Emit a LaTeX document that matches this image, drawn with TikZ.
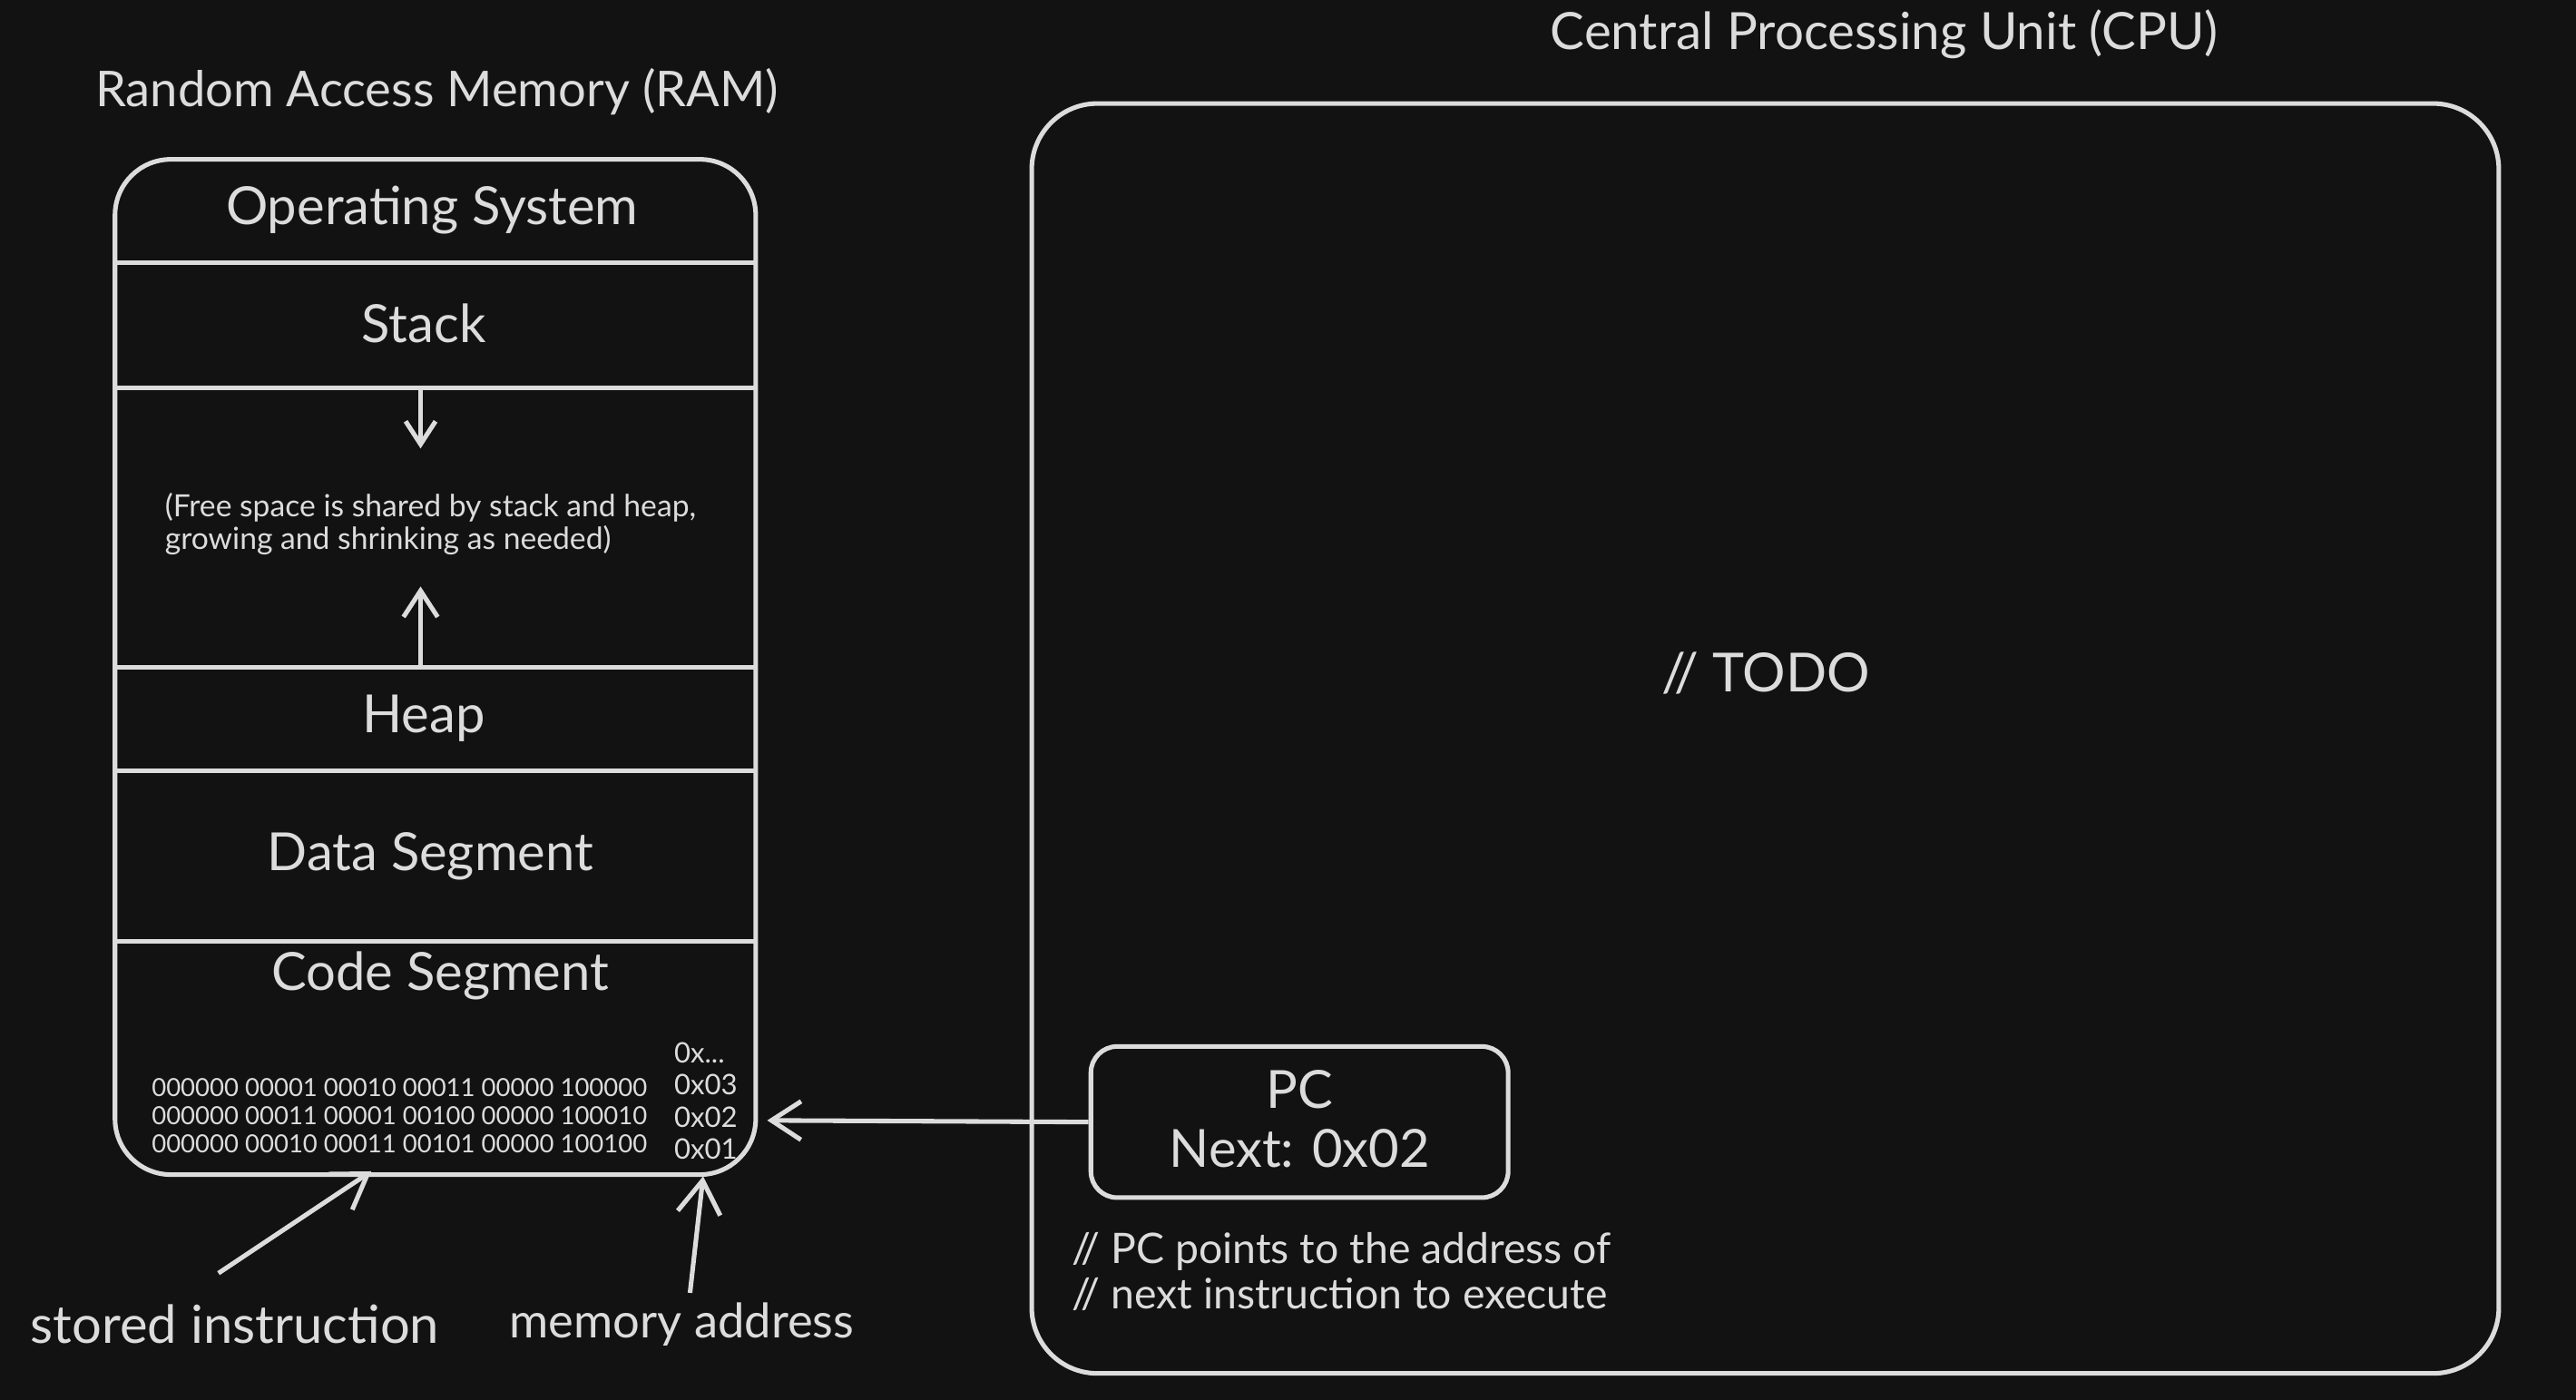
\documentclass[tikz,border=0pt]{standalone}
\usepackage{fontspec}
\setmainfont{Lato}
\usetikzlibrary{arrows.meta}
\definecolor{bg}{HTML}{121212}
\definecolor{ink}{HTML}{DCDCDC}
\begin{document}
\begin{tikzpicture}[x=0.5pt,y=-0.5pt,
  every node/.style={text=ink, inner sep=0pt},
  frame/.style={draw=ink, line width=1.4pt, rounded corners=#1},
  sepline/.style={draw=ink, line width=1.4pt},
  conn/.style={draw=ink, line width=1.4pt, -{Straight Barb[length=#1, width=1.3*#1, line width=1.4pt]}},
  seglabel/.style={font=\fontsize{16}{18}\selectfont},
]
\fill[bg] (0,0) rectangle (1568,852);
\useasboundingbox (0,0) rectangle (1568,852);

% titles
\node[font=\fontsize{15}{18}\selectfont] (ramtitle) at (266,56) {Random Access Memory (RAM)};
\node[font=\fontsize{15.6}{18}\selectfont] (cputitle) at (1147,21) {Central Processing Unit (CPU)};

% boxes
\node[frame=17pt, minimum width=195pt, minimum height=309pt] (ram) at (265,406) {};
\node[frame=20pt, minimum width=446.5pt, minimum height=386.5pt] (cpu) at (1074.5,449.5) {};
\node[frame=8pt, minimum width=127pt, minimum height=46pt] (pc) at (791,683) {};

% separators of the RAM
\coordinate (y1) at (0,160);
\coordinate (y2) at (0,236);
\coordinate (y3) at (0,406);
\coordinate (y4) at (0,469);
\coordinate (y5) at (0,573);
\foreach \k in {1,...,5}{
  \draw[sepline] (ram.west |- y\k) -- (ram.east |- y\k);
}

% segment labels
\node[seglabel] (os) at (263,128) {Operating System};
\node[seglabel] (stack) at (258,197) {Stack};
\node[seglabel] (heap) at (258,437) {Heap};
\node[seglabel] (data) at (262,521) {Data Segment};
\node[seglabel] (code) at (268,594) {Code Segment};

% free space
\node[anchor=west, align=left, font=\fontsize{9.3}{10}\selectfont] (free) at (100,319)
  {(Free space is shared by stack and heap,\\growing and shrinking as needed)};
\coordinate (stackbot) at (256,236);
\coordinate (stackgrow) at (256,273);
\coordinate (heaptop) at (256,406);
\coordinate (heapgrow) at (256,357);
\draw[conn=7pt] (stackbot) -- (stackgrow);
\draw[conn=8pt] (heaptop) -- (heapgrow);

% code segment contents
\node[anchor=west, align=left, font=\fontsize{7.6}{8.5}\selectfont] (bin) at (92,679)
  {000000 00001 00010 00011 00000 100000\\
   000000 00011 00001 00100 00000 100010\\
   000000 00010 00011 00101 00000 100100};
\node[anchor=west, align=left, font=\fontsize{8.6}{9.8}\selectfont] (addr) at (410,670)
  {0x...\\0x03\\0x02\\0x01};

% PC
\node[align=center, font=\fontsize{16}{18}\selectfont] (pctext) at ([yshift=1pt]pc.center) {PC\\Next: 0x02};
\coordinate (pctip) at (467,682);
\draw[conn=9pt] (pc.west) -- (pctip);

\node[anchor=west, align=left, font=\fontsize{12.8}{14}\selectfont] (pcnote) at (652,774)
  {// PC points to the address of\\// next instruction to execute};

\node[font=\fontsize{16.4}{18}\selectfont] (todo) at (1075,410) {// TODO};

% bottom annotations
\node[font=\fontsize{16}{18}\selectfont] (stored) at (143,806) {stored instruction};
\node[font=\fontsize{14.5}{18}\selectfont] (memaddr) at (415,806) {memory address};
\coordinate (storedfrom) at (133,775);
\coordinate (storedto) at (226,713);
\coordinate (addrfrom) at (420,787);
\coordinate (addrto) at (428,716);
\draw[conn=10pt] (storedfrom) -- (storedto);
\draw[conn=10pt] (addrfrom) -- (addrto);
\end{tikzpicture}
\end{document}
